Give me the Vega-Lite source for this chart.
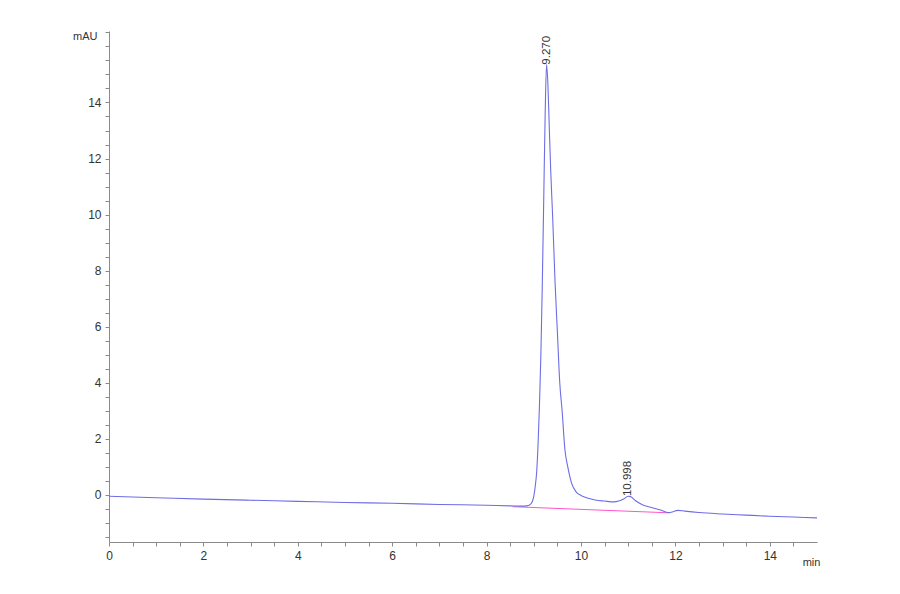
{
  "$schema": "https://vega.github.io/schema/vega-lite/v6.json",
  "width": 708,
  "height": 511,
  "autosize": "none",
  "padding": {"left": 109, "top": 31, "right": 83, "bottom": 52},
  "background": "white",
  "config": {
    "view": {"stroke": null},
    "font": "Liberation Sans",
    "axis": {
      "domainColor": "#8a8a8a",
      "tickColor": "#8a8a8a",
      "tickSize": 4,
      "tickCount": 100,
      "labelColor": "#333333",
      "labelFontSize": 12,
      "labelFont": "Liberation Sans",
      "labelOverlap": false,
      "titleFont": "Liberation Sans",
      "titleFontSize": 11,
      "titleFontWeight": "normal",
      "titleColor": "#333333",
      "grid": false
    }
  },
  "datasets": {
    "trace": [
      {"t": 0, "v": -0.05}, {"t": 1, "v": -0.1}, {"t": 2, "v": -0.15},
      {"t": 3, "v": -0.19}, {"t": 4, "v": -0.23}, {"t": 5, "v": -0.27},
      {"t": 6, "v": -0.3}, {"t": 7, "v": -0.34}, {"t": 8, "v": -0.37},
      {"t": 8.5, "v": -0.39}, {"t": 8.8, "v": -0.4}, {"t": 8.9, "v": -0.37},
      {"t": 8.95, "v": -0.3}, {"t": 9.0, "v": -0.05}, {"t": 9.03, "v": 0.3},
      {"t": 9.06, "v": 0.8}, {"t": 9.09, "v": 1.8}, {"t": 9.12, "v": 3.2},
      {"t": 9.15, "v": 5.0}, {"t": 9.18, "v": 7.5}, {"t": 9.21, "v": 10.5},
      {"t": 9.24, "v": 13.5}, {"t": 9.27, "v": 15.35}, {"t": 9.3, "v": 14.6},
      {"t": 9.33, "v": 13.0}, {"t": 9.36, "v": 11.5}, {"t": 9.4, "v": 9.9},
      {"t": 9.45, "v": 7.6}, {"t": 9.5, "v": 5.8}, {"t": 9.55, "v": 4.0},
      {"t": 9.6, "v": 3.0}, {"t": 9.66, "v": 1.6}, {"t": 9.72, "v": 1.0},
      {"t": 9.8, "v": 0.42}, {"t": 9.9, "v": 0.1}, {"t": 10.0, "v": -0.02},
      {"t": 10.15, "v": -0.12}, {"t": 10.3, "v": -0.18}, {"t": 10.5, "v": -0.22},
      {"t": 10.7, "v": -0.25}, {"t": 10.8, "v": -0.22}, {"t": 10.9, "v": -0.15},
      {"t": 11.0, "v": -0.05}, {"t": 11.05, "v": -0.06}, {"t": 11.15, "v": -0.2},
      {"t": 11.3, "v": -0.35}, {"t": 11.5, "v": -0.45}, {"t": 11.7, "v": -0.55},
      {"t": 11.85, "v": -0.63}, {"t": 11.95, "v": -0.6}, {"t": 12.05, "v": -0.55},
      {"t": 12.2, "v": -0.58}, {"t": 12.5, "v": -0.63}, {"t": 13, "v": -0.68},
      {"t": 13.5, "v": -0.72}, {"t": 14, "v": -0.76}, {"t": 14.5, "v": -0.79},
      {"t": 15, "v": -0.82}
    ],
    "baseline": [
      {"t": 8.55, "v": -0.42, "t2": 11.88, "v2": -0.64}
    ],
    "peaks": [
      {"t": 9.27, "v": 15.35, "label": "9.270", "off": 2},
      {"t": 10.998, "v": -0.04, "label": "10.998", "off": 8}
    ]
  },
  "layer": [
    {
      "data": {"name": "baseline"},
      "mark": {"type": "rule", "color": "#ff55cc", "strokeWidth": 1},
      "encoding": {
        "x": {"field": "t", "type": "quantitative"},
        "y": {"field": "v", "type": "quantitative"},
        "x2": {"field": "t2"},
        "y2": {"field": "v2"}
      }
    },
    {
      "data": {"name": "trace"},
      "mark": {"type": "line", "color": "#6d6de6", "strokeWidth": 1.1, "interpolate": "monotone"},
      "encoding": {
        "x": {
          "field": "t", "type": "quantitative",
          "scale": {"domain": [0, 15], "nice": false, "zero": false},
          "axis": {
            "title": "min",
            "titleAngle": 0,
            "titleAlign": "center",
            "titleBaseline": "middle",
            "titleX": 702,
            "titleY": 20,
            "values": [0, 0.5, 1, 1.5, 2, 2.5, 3, 3.5, 4, 4.5, 5, 5.5, 6, 6.5, 7, 7.5, 8, 8.5, 9, 9.5, 10, 10.5, 11, 11.5, 12, 12.5, 13, 13.5, 14, 14.5],
            "labelExpr": "datum.value % 2 === 0 ? format(datum.value, 'd') : ''",
            "labelPadding": 4,
            "labelFlush": false
          }
        },
        "y": {
          "field": "v", "type": "quantitative",
          "scale": {"domain": [-1.68, 16.55], "nice": false, "zero": false},
          "axis": {
            "title": "mAU",
            "titleAngle": 0,
            "titleAlign": "right",
            "titleBaseline": "middle",
            "titleX": -12,
            "titleY": 5,
            "values": [-1.5, -1, -0.5, 0, 0.5, 1, 1.5, 2, 2.5, 3, 3.5, 4, 4.5, 5, 5.5, 6, 6.5, 7, 7.5, 8, 8.5, 9, 9.5, 10, 10.5, 11, 11.5, 12, 12.5, 13, 13.5, 14, 14.5, 15, 15.5, 16, 16.5],
            "labelExpr": "datum.value % 2 === 0 && datum.value < 15 ? format(datum.value, 'd') : ''",
            "labelPadding": 4
          }
        }
      }
    },
    {
      "data": {"name": "peaks"},
      "mark": {"type": "text", "angle": 270, "align": "left", "baseline": "middle", "fontSize": 11.5, "color": "#333333"},
      "encoding": {
        "x": {"field": "t", "type": "quantitative"},
        "y": {"field": "v", "type": "quantitative"},
        "dx": {"field": "off", "type": "quantitative", "scale": null},
        "text": {"field": "label"}
      }
    }
  ]
}
